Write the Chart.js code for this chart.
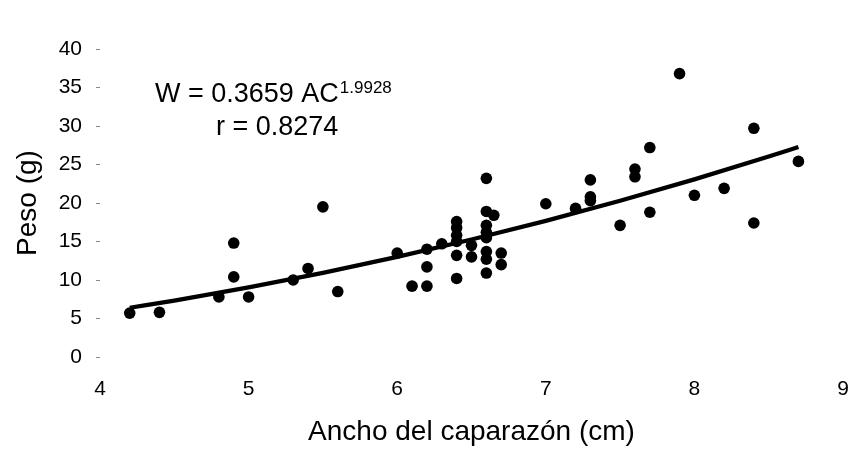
<!DOCTYPE html>
<html>
<head>
<meta charset="utf-8">
<script src="https://cdn.jsdelivr.net/npm/chart.js@4/dist/chart.umd.min.js"></script>
<style>
  html, body { margin: 0; padding: 0; background: #fff; }
</style>
</head>
<body>
<canvas id="myChart1" width="850" height="457"></canvas>
<script>
// ancho del caparazon (cm) y peso (g)
var ancho = [4.2, 4.4, 4.8, 4.9, 4.9, 5.0, 5.3, 5.4, 5.5, 5.6,
             6.0, 6.1, 6.2, 6.2, 6.2, 6.3, 6.4, 6.4, 6.4, 6.4,
             6.4, 6.4, 6.5, 6.5, 6.6, 6.6, 6.6, 6.6, 6.6, 6.6,
             6.6, 6.6, 6.65, 6.7, 6.7, 7.0, 7.2, 7.3, 7.3, 7.3,
             7.5, 7.6, 7.6, 7.7, 7.7, 7.9, 8.0, 8.2, 8.4, 8.4, 8.7];
var peso = [5.7, 5.8, 7.8, 14.8, 10.4, 7.8, 10.0, 11.5, 19.5, 8.5,
            13.5, 9.2, 9.2, 11.7, 14.0, 14.7, 17.6, 16.8, 15.8, 15.0,
            13.2, 10.2, 14.5, 13.0, 23.2, 18.9, 17.1, 16.2, 15.5, 13.7,
            12.7, 10.9, 18.4, 13.5, 12.0, 19.9, 19.3, 23.0, 20.8, 20.3,
            17.1, 24.4, 23.4, 27.2, 18.8, 36.8, 21.0, 21.9, 29.7, 17.4, 25.4];

// curva ajustada W = 0.3659 AC^1.9928
var curvaX = [4.2, 4.5, 5.0, 5.5, 6.0, 6.5, 7.0, 7.5, 8.0, 8.5, 8.7];
var curvaY = [6.39, 7.33, 9.04, 10.93, 13.00, 15.25, 17.68, 20.29, 23.07, 26.03, 27.27];

var xTicks = [4, 5, 6, 7, 8, 9];
var yTicks = [0, 5, 10, 15, 20, 25, 30, 35, 40];

var puntos = [];
for (var i = 0; i < ancho.length; i++) {
  puntos.push({x: ancho[i], y: peso[i]});
}
var curva = [];
for (var j = 0; j < curvaX.length; j++) {
  curva.push({x: curvaX[j], y: curvaY[j]});
}

var fuente = "'Liberation Sans', Arial, sans-serif";

// texto de la ecuacion
var ecuacion = {
  id: 'ecuacion',
  afterDraw: function(chart) {
    var ctx = chart.ctx;
    var sx = chart.scales.x, sy = chart.scales.y;
    var x0 = sx.getPixelForValue(4.37);
    var y0 = sy.getPixelForValue(33.1);
    ctx.save();
    ctx.fillStyle = '#000';
    ctx.textBaseline = 'alphabetic';
    ctx.textAlign = 'left';
    ctx.font = "27px " + fuente;
    var t = 'W = 0.3659 AC';
    ctx.fillText(t, x0, y0);
    var w = ctx.measureText(t).width;
    ctx.font = "17px " + fuente;
    ctx.fillText('1.9928', x0 + w + 1, y0 - 9);
    ctx.font = "27px " + fuente;
    ctx.fillText('r = 0.8274', sx.getPixelForValue(4.78), sy.getPixelForValue(28.8));
    ctx.restore();
  }
};

let massPopChart = new Chart(document.getElementById('myChart1').getContext('2d'), {
  type: 'scatter',
  data: {
    datasets: [
      {
        label: 'Datos',
        data: puntos,
        backgroundColor: '#000',
        borderColor: '#000',
        borderWidth: 0,
        pointRadius: 5.8,
        order: 2
      },
      {
        label: 'Ajuste',
        type: 'line',
        data: curva,
        borderColor: '#000',
        borderWidth: 4.2,
        pointRadius: 0,
        cubicInterpolationMode: 'monotone',
        fill: false,
        order: 1
      }
    ]
  },
  options: {
    responsive: false,
    animation: false,
    layout: { padding: { top: 49, right: 7, left: 0, bottom: 0 } },
    plugins: {
      legend: { display: false },
      tooltip: { enabled: false }
    },
    scales: {
      x: {
        type: 'linear',
        min: 4,
        max: 9,
        afterFit: function(scale) {
          scale.height = 100;
          scale.paddingLeft = 0;
          scale.paddingRight = 0;
        },
        afterBuildTicks: function(scale) {
          scale.ticks = xTicks.map(function(v) { return {value: v}; });
        },
        grid: { display: false, drawTicks: false },
        border: { display: false },
        ticks: {
          color: '#000',
          padding: 20,
          font: { family: fuente, size: 21 }
        },
        title: {
          display: true,
          text: 'Ancho del caparazón (cm)',
          color: '#000',
          padding: { top: 0, bottom: 8 },
          font: { family: fuente, size: 28 }
        }
      },
      y: {
        type: 'linear',
        min: 0,
        max: 40,
        afterFit: function(scale) { scale.width = 100; },
        afterBuildTicks: function(scale) {
          scale.ticks = yTicks.map(function(v) { return {value: v}; });
        },
        grid: {
          display: true,
          drawOnChartArea: false,
          tickLength: 4,
          color: '#888',
          tickWidth: 1
        },
        border: { display: false },
        ticks: {
          color: '#000',
          padding: 14,
          font: { family: fuente, size: 21 }
        },
        title: {
          display: true,
          text: 'Peso (g)',
          color: '#000',
          padding: { top: 11, bottom: 0 },
          font: { family: fuente, size: 28 }
        }
      }
    }
  },
  plugins: [ecuacion]
});
</script>
</body>
</html>
